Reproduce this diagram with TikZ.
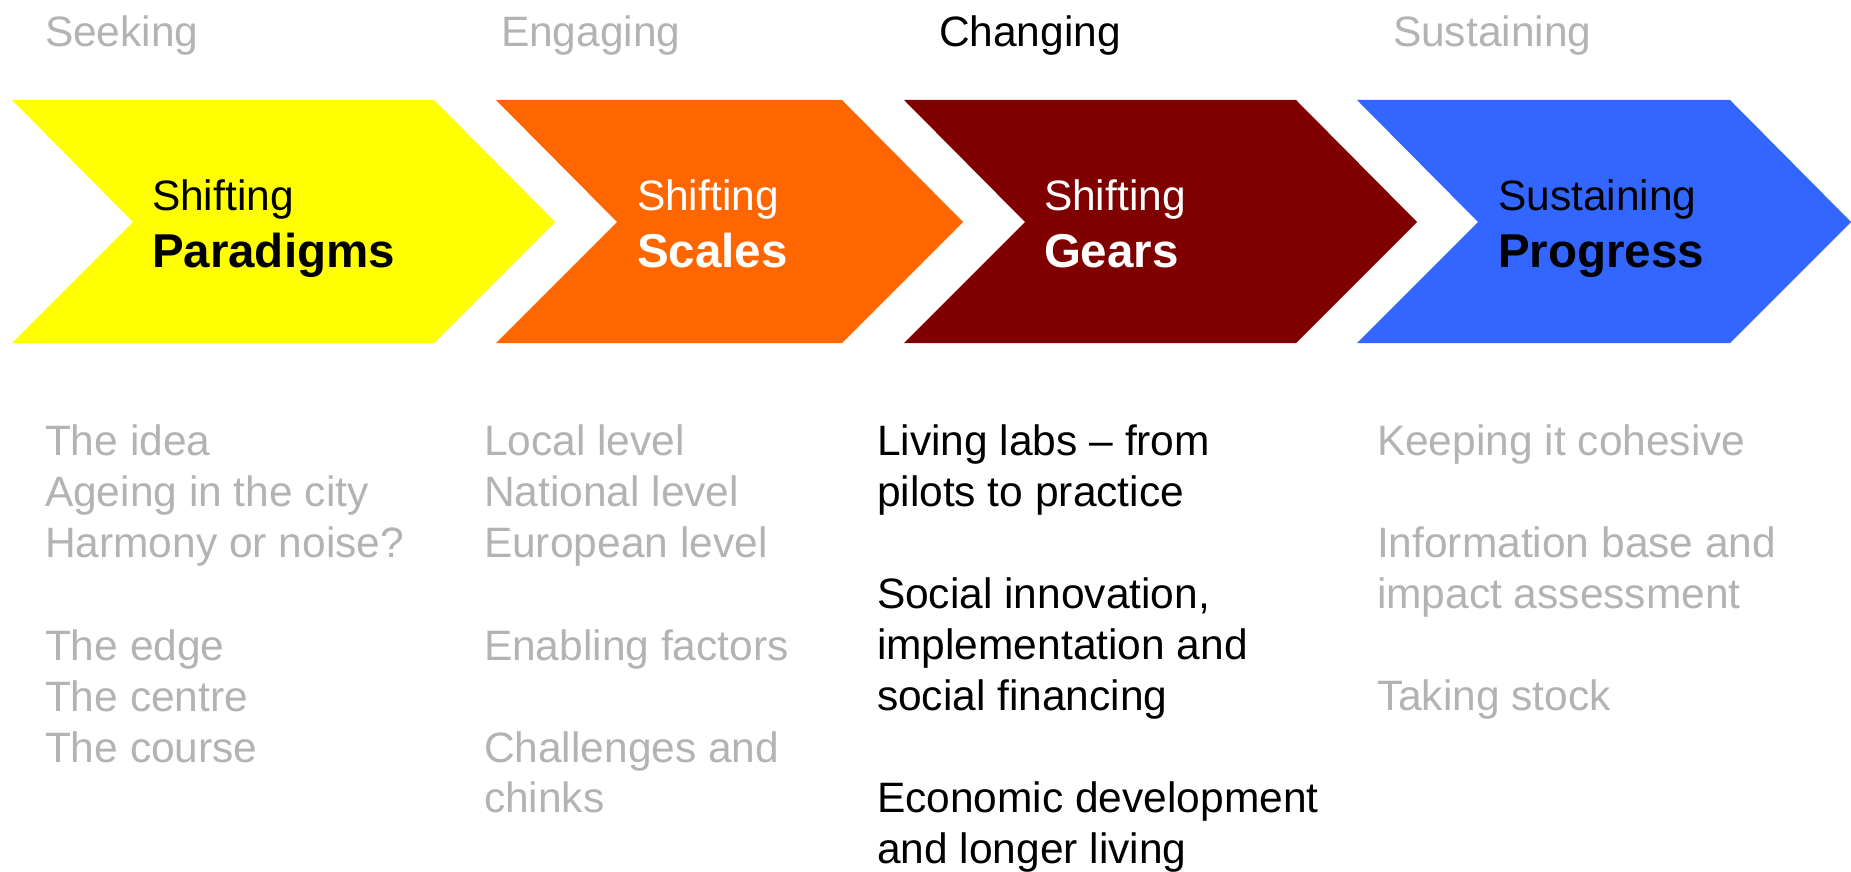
\documentclass[tikz,border=0pt]{standalone}
\usepackage{fontspec}
\setmainfont{Liberation Sans}
\definecolor{ygold}{HTML}{FFFF00}
\definecolor{orng}{HTML}{FF6600}
\definecolor{maroonc}{HTML}{800000}
\definecolor{bluec}{HTML}{3366FF}
\definecolor{greytxt}{HTML}{B3B3B3}
\tikzset{
  txt/.style={inner sep=0pt, outer sep=0pt, anchor=base west, font=\fontsize{42.5}{50.8}\selectfont},
  boldtxt/.style={inner sep=0pt, outer sep=0pt, anchor=base west, font=\fontsize{47.5}{56}\selectfont\bfseries},
  faded/.style={txt, text=greytxt},
  dark/.style={txt, text=black},
}
\begin{document}
\begin{tikzpicture}[x=1pt,y=-1pt]
\useasboundingbox (0,0) rectangle (1851,872);
% chevrons
\fill[ygold] (12,100) -- (434,100) -- (555,222) -- (434,343) -- (12,343) -- (133,222) -- cycle;
\fill[orng] (496,100) -- (842,100) -- (963,222) -- (842,343) -- (496,343) -- (617,222) -- cycle;
\fill[maroonc] (904,100) -- (1296,100) -- (1417,222) -- (1296,343) -- (904,343) -- (1025,222) -- cycle;
\fill[bluec] (1357,100) -- (1730,100) -- (1851,222) -- (1730,343) -- (1357,343) -- (1478,222) -- cycle;
% top labels
\node[faded] (h1) at (45,47) {Seeking};
\node[faded] (h2) at (501,47) {Engaging};
\node[dark]  (h3) at (939,47) {Changing};
\node[faded] (h4) at (1393,47) {Sustaining};
% chevron titles
\node[txt, text=black] (s1) at (152,210) {Shifting};
\node[boldtxt, text=black] (b1) at (152,267) {Paradigms};
\node[txt, text=white] (s2) at (637,210) {Shifting};
\node[boldtxt, text=white] (b2) at (637,267) {Scales};
\node[txt, text=white] (s3) at (1044,210) {Shifting};
\node[boldtxt, text=white] (b3) at (1044,267) {Gears};
\node[txt, text=black] (s4) at (1498,210) {Sustaining};
\node[boldtxt, text=black] (b4) at (1498,267) {Progress};
% column 1
\node[faded] (c1a) at (45,455) {The idea};
\node[faded] (c1b) at (45,506) {Ageing in the city};
\node[faded] (c1c) at (45,557) {Harmony or noise?};
\node[faded] (c1d) at (45,660) {The edge};
\node[faded] (c1e) at (45,711) {The centre};
\node[faded] (c1f) at (45,762) {The course};
% column 2
\node[faded] (c2a) at (484,455) {Local level};
\node[faded] (c2b) at (484,506) {National level};
\node[faded] (c2c) at (484,557) {European level};
\node[faded] (c2d) at (484,660) {Enabling factors};
\node[faded] (c2e) at (484,762) {Challenges and};
\node[faded] (c2f) at (484,812) {chinks};
% column 3
\node[dark] (c3a) at (877,455) {Living labs – from};
\node[dark] (c3b) at (877,506) {pilots to practice};
\node[dark] (c3c) at (877,608) {Social innovation,};
\node[dark] (c3d) at (877,659) {implementation and};
\node[dark] (c3e) at (877,710) {social financing};
\node[dark] (c3f) at (877,812) {Economic development};
\node[dark] (c3g) at (877,863) {and longer living};
% column 4
\node[faded] (c4a) at (1377,455) {Keeping it cohesive};
\node[faded] (c4b) at (1377,557) {Information base and};
\node[faded] (c4c) at (1377,608) {impact assessment};
\node[faded] (c4d) at (1377,710) {Taking stock};
\end{tikzpicture}
\end{document}
